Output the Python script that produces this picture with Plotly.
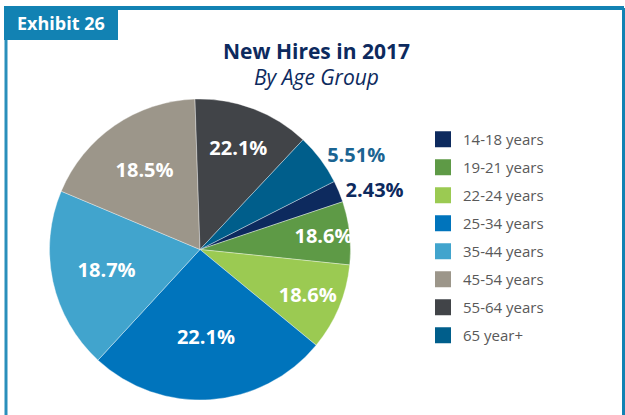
import plotly.graph_objects as go

# ---- data ----
categories = ["14-18 years", "19-21 years", "22-24 years", "25-34 years",
              "35-44 years", "45-54 years", "55-64 years", "65 year+"]
slice_values = [2.33, 6.78, 9.33, 25.89, 19.47, 18.14, 12.53, 5.53]
slice_labels = ["2.43%", "18.6%", "18.6%", "22.1%", "18.7%", "18.5%", "22.1%", "5.51%"]
colors = ["#0d2a5e", "#5e9a46", "#9bca52", "#0074bc", "#41a4cd",
          "#9c968a", "#414448", "#005e8b"]
text_pos = ["outside", "inside", "inside", "inside", "inside", "inside", "inside", "outside"]
text_colors = ["#0d2a5e", "#ffffff", "#ffffff", "#ffffff", "#ffffff", "#ffffff", "#ffffff", "#1b6492"]

W, H = 625, 415
FONT = "Open Sans"
NAVY = "#0d2a5e"
TEAL = "#1282b3"

fig = go.Figure()

fig.add_trace(go.Pie(
    values=slice_values,
    labels=categories,
    text=slice_labels,
    textinfo="text",
    textposition=text_pos,
    insidetextorientation="horizontal",
    sort=False,
    direction="clockwise",
    rotation=63.1,
    marker=dict(colors=colors, line=dict(color="rgba(255,255,255,0.6)", width=0.6)),
    textfont=dict(family=FONT, size=20, color=text_colors, weight="bold"),
    showlegend=False,
    domain=dict(x=[49 / W, 351 / W], y=[1 - 400 / H, 1 - 99 / H]),
    hoverinfo="label+percent",
))

# legend entries (one per category)
for i, (cat, col) in enumerate(zip(categories, colors)):
    fig.add_trace(go.Scatter(
        x=[None], y=[None], mode="markers", name=cat,
        marker=dict(symbol="square", size=17, color=col),
        legendgroup=f"g{i}", showlegend=True,
    ))

fig.update_layout(
    width=W, height=H,
    margin=dict(l=0, r=0, t=0, b=0),
    paper_bgcolor="white", plot_bgcolor="white",
    xaxis=dict(visible=False), yaxis=dict(visible=False),
    uniformtext=dict(minsize=20, mode="show"),
    legend=dict(
        x=423 / W, xanchor="left", y=1 - 123 / H, yanchor="top",
        font=dict(family=FONT, size=15, color="#595959"),
        tracegroupgap=5.5, bgcolor="rgba(0,0,0,0)",
    ),
    shapes=[
        dict(type="line", xref="paper", yref="paper", x0=118 / W, x1=624 / W,
             y0=1 - 8 / H, y1=1 - 8 / H, line=dict(color=TEAL, width=4)),
        dict(type="line", xref="paper", yref="paper", x0=623.5 / W, x1=623.5 / W,
             y0=1 - 8 / H, y1=0, line=dict(color=TEAL, width=3)),
        dict(type="line", xref="paper", yref="paper", x0=6 / W, x1=6 / W,
             y0=1 - 39 / H, y1=0, line=dict(color="#2a8fbb", width=3)),
        dict(type="rect", xref="paper", yref="paper", x0=4 / W, x1=118 / W,
             y0=1 - 40 / H, y1=1 - 6 / H, fillcolor=TEAL, line=dict(width=0)),
    ],
    annotations=[
        dict(text="<b>Exhibit 26</b>", xref="paper", yref="paper",
             x=61 / W, y=1 - 23 / H, xanchor="center", yanchor="middle",
             showarrow=False, font=dict(family=FONT, size=18, color="white")),
        dict(text="<b>New Hires in 2017</b>", xref="paper", yref="paper",
             x=316 / W, y=1 - 51 / H, xanchor="center", yanchor="middle",
             showarrow=False, font=dict(family=FONT, size=21, color=NAVY)),
        dict(text="<i>By Age Group</i>", xref="paper", yref="paper",
             x=316 / W, y=1 - 77 / H, xanchor="center", yanchor="middle",
             showarrow=False, font=dict(family=FONT, size=21, color=NAVY)),
    ],
)

fig.write_html("out.html", config={"displayModeBar": False},
               post_script="document.body.style.margin='0px';")
